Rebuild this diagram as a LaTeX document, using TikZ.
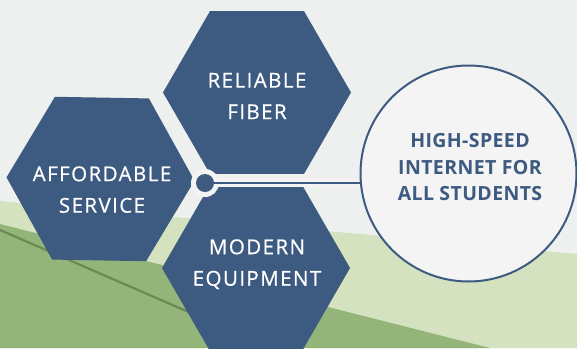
\documentclass[tikz,border=0pt]{standalone}
\usepackage{fontspec}
\setmainfont{Open Sans}
\newfontfamily\hexfont{Open Sans}[LetterSpace=7, FakeBold=0.6]
\newfontfamily\goalfont{Open Sans}[LetterSpace=2]
\usetikzlibrary{shapes.geometric}
\definecolor{hexblue}{HTML}{3D5A80}
\definecolor{bggray}{HTML}{EEF0EF}
\definecolor{ringgray}{HTML}{F2F3F2}
\definecolor{goalfill}{HTML}{F4F4F4}
\definecolor{palegreen}{HTML}{D4E2BF}
\definecolor{midgreen}{HTML}{93B57A}
\definecolor{darkgreen}{HTML}{6B8955}

\begin{document}
\begin{tikzpicture}[x=1pt, y=-1pt,
  hex/.style={regular polygon, regular polygon sides=6, minimum size=188pt, inner sep=0pt, fill=hexblue},
  hexlabel/.style={text=white, align=center, text depth=0pt, font=\hexfont\fontsize{20.5}{31.5}\selectfont},
  goal/.style={circle, draw=hexblue, line width=2pt, fill=goalfill, minimum size=216pt, inner sep=0pt},
  goallabel/.style={text=hexblue, align=center, text depth=0pt, font=\goalfont\bfseries\fontsize{19.5}{26.3}\selectfont}]
\useasboundingbox (0,0) rectangle (577,348);
% landscape behind
\fill[bggray] (0,0) rectangle (577,348);
\fill[palegreen] (0,201) -- (577,254) -- (577,348) -- (0,348) -- cycle;
\fill[midgreen] (0,224) -- (490,348) -- (0,348) -- cycle;
\draw[darkgreen, line width=2.2pt] (0,230) -- (230,330);
% the three hexagons
\node[hex] (fiber) at (257,92.5) {};
\node[hex, shape border rotate=-1] (service) at (100.5,179) {};
\node[hex] (equip) at (256,268) {};
\node[hexlabel] (fibertext) at (257,96) {RELIABLE\\FIBER};
\node[hexlabel] (servicetext) at (102,189.5) {AFFORDABLE\\SERVICE};
\node[hexlabel] (equiptext) at (257,262.5) {MODERN\\EQUIPMENT};
% goal and hub
\node[goal] (goal) at (468.5,173.5) {};
\node[circle, fill=ringgray, minimum size=28pt, inner sep=0pt] (hub) at (205,183) {};
\draw[ringgray, line width=8pt, shorten >=1pt] (hub.center) -- (hub.center -| goal.west);
\draw[hexblue, line width=2.5pt] (hub.center) -- (hub.center -| goal.west);
\node[circle, fill=hexblue, minimum size=18pt, inner sep=0pt] (hubdot) at (hub) {};
\node[goallabel] (goaltext) at (470,167) {HIGH-SPEED\\INTERNET FOR\\ALL STUDENTS};
\end{tikzpicture}
\end{document}
